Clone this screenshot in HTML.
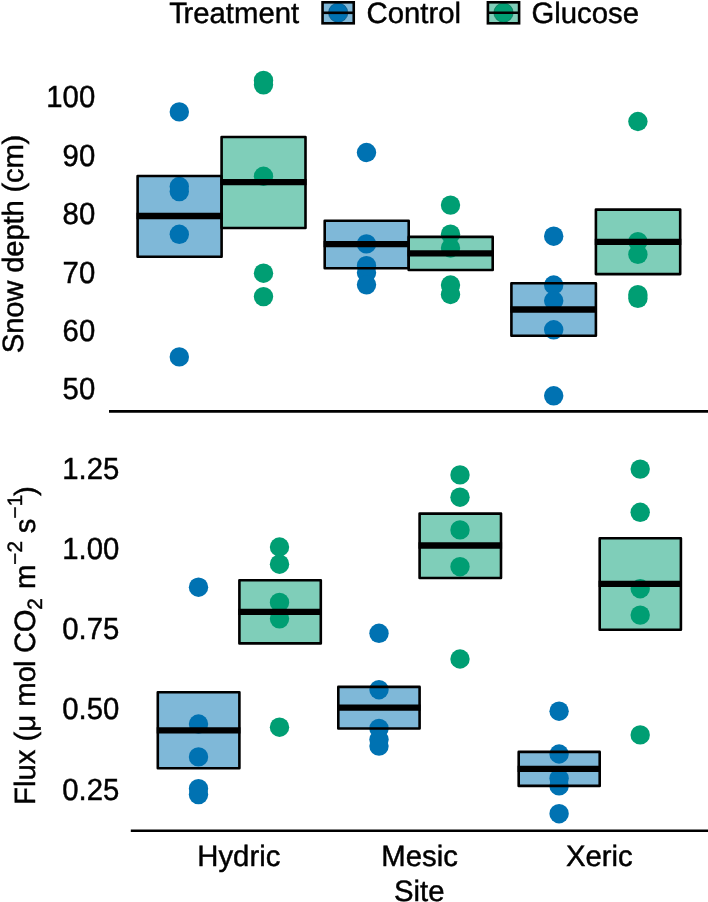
<!DOCTYPE html>
<html><head><meta charset="utf-8"><title>Chart</title>
<style>
html,body{margin:0;padding:0;background:#fff;}
body{width:708px;height:902px;overflow:hidden;font-family:"Liberation Sans",sans-serif;}
svg{display:block;}
text{text-rendering:geometricPrecision;}
</style></head><body>
<svg width="708" height="902" viewBox="0 0 708 902">
<rect width="708" height="902" fill="#fff"/>
<g font-family="'Liberation Sans', sans-serif" font-size="29.3px" fill="#000" stroke="#000" stroke-width="0.45" opacity="0.999">
<text x="169.3" y="22.9">T<tspan dx="-2.6">reatment</tspan></text>
<circle cx="338.15" cy="12.7" r="9.7" fill="#0072B2"/>
<rect x="322.55" y="2.3" width="31.2" height="21" fill="#0072B2" fill-opacity="0.5" stroke="#000" stroke-width="2.6"/>
<line x1="322.55" x2="353.75" y1="12.8" y2="12.8" stroke="#000" stroke-width="2.6"/>
<circle cx="503.5" cy="12.7" r="9.7" fill="#009E73"/>
<rect x="487.90" y="2.3" width="31.2" height="21" fill="#009E73" fill-opacity="0.5" stroke="#000" stroke-width="2.6"/>
<line x1="487.90" x2="519.10" y1="12.8" y2="12.8" stroke="#000" stroke-width="2.6"/>
<text x="366.5" y="22.9">Control</text>
<text x="531.5" y="22.9">Glucose</text>
<text transform="translate(95.2,107.4) scale(1,1.045)" text-anchor="end">100</text>
<text transform="translate(95.2,165.8) scale(1,1.045)" text-anchor="end">90</text>
<text transform="translate(95.2,224.1) scale(1,1.045)" text-anchor="end">80</text>
<text transform="translate(95.2,282.5) scale(1,1.045)" text-anchor="end">70</text>
<text transform="translate(95.2,340.8) scale(1,1.045)" text-anchor="end">60</text>
<text transform="translate(95.2,399.2) scale(1,1.045)" text-anchor="end">50</text>
<text transform="translate(119.3,478.5) scale(1,1.045)" text-anchor="end">1.25</text>
<text transform="translate(119.3,558.8) scale(1,1.045)" text-anchor="end">1.00</text>
<text transform="translate(119.3,639.1) scale(1,1.045)" text-anchor="end">0.75</text>
<text transform="translate(119.3,719.4) scale(1,1.045)" text-anchor="end">0.50</text>
<text transform="translate(119.3,799.6) scale(1,1.045)" text-anchor="end">0.25</text>
<text x="238.8" y="865.8" text-anchor="middle">Hydric</text>
<text x="419.6" y="865.8" text-anchor="middle">Mesic</text>
<text x="599.4" y="865.8" text-anchor="middle">Xeric</text>
<text x="419.3" y="900.6" text-anchor="middle">Site</text>
<text transform="translate(22.5,243.9) rotate(-90)" text-anchor="middle" textLength="218.5" lengthAdjust="spacing">Snow depth (cm)</text>
<text transform="translate(35.2,804.9) rotate(-90)" text-anchor="start">Flux (μ mo<tspan dx="-1">l</tspan><tspan dx="-0.8"> C</tspan><tspan dx="-0.3">O</tspan><tspan font-size="20.8px" dy="6.3" dx="-0.3">2</tspan><tspan dy="-6.3" dx="0.9"> m</tspan><tspan font-size="20.8px" dy="-13">−2</tspan><tspan dy="13" dx="-0.3"> s</tspan><tspan font-size="20.8px" dy="-13">−1</tspan><tspan dy="13" dx="-1.2">)</tspan></text>
</g>
<circle cx="179.3" cy="111.9" r="9.7" fill="#0072B2"/>
<circle cx="179.3" cy="186.5" r="9.7" fill="#0072B2"/>
<circle cx="179.3" cy="191.6" r="9.7" fill="#0072B2"/>
<circle cx="179.3" cy="234.3" r="9.7" fill="#0072B2"/>
<circle cx="179.3" cy="356.9" r="9.7" fill="#0072B2"/>
<circle cx="263.5" cy="80.4" r="9.7" fill="#009E73"/>
<circle cx="263.5" cy="84.8" r="9.7" fill="#009E73"/>
<circle cx="263.5" cy="176.3" r="9.7" fill="#009E73"/>
<circle cx="263.5" cy="273.2" r="9.7" fill="#009E73"/>
<circle cx="263.5" cy="296.6" r="9.7" fill="#009E73"/>
<circle cx="366.5" cy="152.5" r="9.7" fill="#0072B2"/>
<circle cx="366.5" cy="243.9" r="9.7" fill="#0072B2"/>
<circle cx="366.5" cy="265.7" r="9.7" fill="#0072B2"/>
<circle cx="366.5" cy="272.8" r="9.7" fill="#0072B2"/>
<circle cx="366.5" cy="284.8" r="9.7" fill="#0072B2"/>
<circle cx="450.5" cy="205.1" r="9.7" fill="#009E73"/>
<circle cx="450.5" cy="234.2" r="9.7" fill="#009E73"/>
<circle cx="450.5" cy="248.0" r="9.7" fill="#009E73"/>
<circle cx="450.5" cy="285.0" r="9.7" fill="#009E73"/>
<circle cx="450.5" cy="294.5" r="9.7" fill="#009E73"/>
<circle cx="553.7" cy="236.2" r="9.7" fill="#0072B2"/>
<circle cx="553.7" cy="285.0" r="9.7" fill="#0072B2"/>
<circle cx="553.7" cy="300.8" r="9.7" fill="#0072B2"/>
<circle cx="553.7" cy="329.8" r="9.7" fill="#0072B2"/>
<circle cx="553.7" cy="395.8" r="9.7" fill="#0072B2"/>
<circle cx="637.9" cy="121.5" r="9.7" fill="#009E73"/>
<circle cx="637.9" cy="241.7" r="9.7" fill="#009E73"/>
<circle cx="637.9" cy="254.4" r="9.7" fill="#009E73"/>
<circle cx="637.9" cy="294.7" r="9.7" fill="#009E73"/>
<circle cx="637.9" cy="298.4" r="9.7" fill="#009E73"/>
<circle cx="198.5" cy="587.2" r="9.7" fill="#0072B2"/>
<circle cx="198.5" cy="724.0" r="9.7" fill="#0072B2"/>
<circle cx="198.5" cy="756.9" r="9.7" fill="#0072B2"/>
<circle cx="198.5" cy="788.7" r="9.7" fill="#0072B2"/>
<circle cx="198.5" cy="794.6" r="9.7" fill="#0072B2"/>
<circle cx="279.5" cy="547.0" r="9.7" fill="#009E73"/>
<circle cx="279.5" cy="564.2" r="9.7" fill="#009E73"/>
<circle cx="279.5" cy="602.4" r="9.7" fill="#009E73"/>
<circle cx="279.5" cy="618.8" r="9.7" fill="#009E73"/>
<circle cx="279.5" cy="727.2" r="9.7" fill="#009E73"/>
<circle cx="379.0" cy="633.3" r="9.7" fill="#0072B2"/>
<circle cx="379.0" cy="689.7" r="9.7" fill="#0072B2"/>
<circle cx="379.0" cy="728.4" r="9.7" fill="#0072B2"/>
<circle cx="379.0" cy="739.5" r="9.7" fill="#0072B2"/>
<circle cx="379.0" cy="746.1" r="9.7" fill="#0072B2"/>
<circle cx="460.0" cy="474.9" r="9.7" fill="#009E73"/>
<circle cx="460.0" cy="497.2" r="9.7" fill="#009E73"/>
<circle cx="460.0" cy="529.9" r="9.7" fill="#009E73"/>
<circle cx="460.0" cy="566.7" r="9.7" fill="#009E73"/>
<circle cx="460.0" cy="659.0" r="9.7" fill="#009E73"/>
<circle cx="559.1" cy="711.2" r="9.7" fill="#0072B2"/>
<circle cx="559.1" cy="754.0" r="9.7" fill="#0072B2"/>
<circle cx="559.1" cy="778.4" r="9.7" fill="#0072B2"/>
<circle cx="559.1" cy="785.9" r="9.7" fill="#0072B2"/>
<circle cx="559.1" cy="813.7" r="9.7" fill="#0072B2"/>
<circle cx="640.2" cy="469.1" r="9.7" fill="#009E73"/>
<circle cx="640.2" cy="512.3" r="9.7" fill="#009E73"/>
<circle cx="640.2" cy="588.7" r="9.7" fill="#009E73"/>
<circle cx="640.2" cy="615.1" r="9.7" fill="#009E73"/>
<circle cx="640.2" cy="734.9" r="9.7" fill="#009E73"/>
<rect x="137.6" y="176.0" width="84.0" height="80.8" fill="#0072B2" fill-opacity="0.5" stroke="#000" stroke-width="2.6" stroke-linejoin="round"/>
<rect x="221.6" y="137.0" width="83.9" height="91.0" fill="#009E73" fill-opacity="0.5" stroke="#000" stroke-width="2.6" stroke-linejoin="round"/>
<rect x="324.7" y="220.7" width="84.0" height="47.6" fill="#0072B2" fill-opacity="0.5" stroke="#000" stroke-width="2.6" stroke-linejoin="round"/>
<rect x="408.7" y="236.9" width="84.0" height="33.1" fill="#009E73" fill-opacity="0.5" stroke="#000" stroke-width="2.6" stroke-linejoin="round"/>
<rect x="511.4" y="283.2" width="84.5" height="52.5" fill="#0072B2" fill-opacity="0.5" stroke="#000" stroke-width="2.6" stroke-linejoin="round"/>
<rect x="595.9" y="209.6" width="84.3" height="64.5" fill="#009E73" fill-opacity="0.5" stroke="#000" stroke-width="2.6" stroke-linejoin="round"/>
<rect x="157.8" y="692.3" width="81.6" height="75.9" fill="#0072B2" fill-opacity="0.5" stroke="#000" stroke-width="2.6" stroke-linejoin="round"/>
<rect x="239.4" y="580.2" width="81.4" height="63.2" fill="#009E73" fill-opacity="0.5" stroke="#000" stroke-width="2.6" stroke-linejoin="round"/>
<rect x="338.3" y="686.9" width="81.3" height="41.6" fill="#0072B2" fill-opacity="0.5" stroke="#000" stroke-width="2.6" stroke-linejoin="round"/>
<rect x="419.6" y="513.6" width="81.4" height="64.4" fill="#009E73" fill-opacity="0.5" stroke="#000" stroke-width="2.6" stroke-linejoin="round"/>
<rect x="518.7" y="751.9" width="81.0" height="34.0" fill="#0072B2" fill-opacity="0.5" stroke="#000" stroke-width="2.6" stroke-linejoin="round"/>
<rect x="599.7" y="538.3" width="81.2" height="91.5" fill="#009E73" fill-opacity="0.5" stroke="#000" stroke-width="2.6" stroke-linejoin="round"/>
<line x1="136.5" x2="222.7" y1="216.0" y2="216.0" stroke="#000" stroke-width="6.3"/>
<line x1="220.5" x2="306.6" y1="182.2" y2="182.2" stroke="#000" stroke-width="6.3"/>
<line x1="323.6" x2="409.8" y1="244.1" y2="244.1" stroke="#000" stroke-width="6.3"/>
<line x1="407.6" x2="493.8" y1="253.3" y2="253.3" stroke="#000" stroke-width="6.3"/>
<line x1="510.3" x2="597.0" y1="309.5" y2="309.5" stroke="#000" stroke-width="6.3"/>
<line x1="594.8" x2="681.3" y1="241.8" y2="241.8" stroke="#000" stroke-width="6.3"/>
<line x1="156.7" x2="240.5" y1="730.3" y2="730.3" stroke="#000" stroke-width="6.3"/>
<line x1="238.3" x2="321.9" y1="611.8" y2="611.8" stroke="#000" stroke-width="6.3"/>
<line x1="337.2" x2="420.7" y1="707.6" y2="707.6" stroke="#000" stroke-width="6.3"/>
<line x1="418.5" x2="502.1" y1="545.5" y2="545.5" stroke="#000" stroke-width="6.3"/>
<line x1="517.6" x2="600.8" y1="768.8" y2="768.8" stroke="#000" stroke-width="6.3"/>
<line x1="598.6" x2="682.0" y1="583.8" y2="583.8" stroke="#000" stroke-width="6.3"/>
<line x1="109" x2="708" y1="411.4" y2="411.4" stroke="#000" stroke-width="2.6"/>
<line x1="130.8" x2="708" y1="830.7" y2="830.7" stroke="#000" stroke-width="2.6"/>
</svg>
</body></html>
